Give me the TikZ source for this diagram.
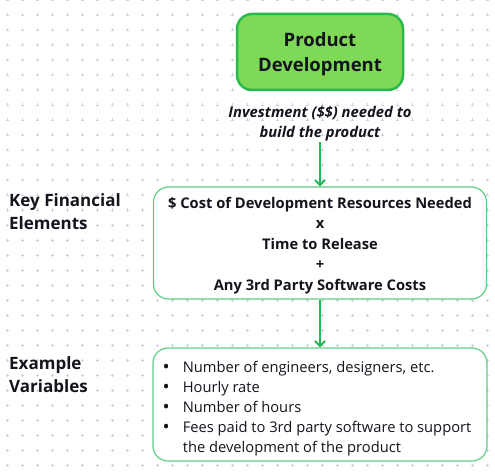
\documentclass[tikz,border=0pt]{standalone}
\usepackage{fontspec}
\setmainfont{Open Sans}
\usetikzlibrary{arrows.meta}

\definecolor{prodgreen}{RGB}{126,217,87}
\definecolor{prodedge}{RGB}{40,185,75}
\definecolor{boxedge}{RGB}{95,205,135}
\definecolor{arrowgreen}{RGB}{30,185,85}
\definecolor{gridgray}{RGB}{208,208,222}
\definecolor{ink}{RGB}{20,20,30}

% move text down inside its box without changing the box
\newcommand{\lowerby}[2]{\raisebox{-#1}[\height][\depth]{#2}}
\newcommand{\blt}{\raisebox{-1pt}{\fontsize{19}{20}\selectfont\textbullet}}

\begin{document}
\begin{tikzpicture}[x=1pt, y=-1pt,
    block/.style={draw=boxedge, line width=1.2pt, rounded corners=15pt, fill=white, align=center, text=ink, inner sep=0pt},
    edge/.style={-{Straight Barb[length=5pt,width=10pt]}, line width=2pt, draw=arrowgreen},
    sidelabel/.style={anchor=west, align=left, font=\fontsize{17}{23}\selectfont\bfseries, text=ink, inner sep=0pt},
]
\useasboundingbox (0,0) rectangle (495,473);

% dotted grid
\foreach \i in {0,...,32}
  \foreach \j in {0,...,31}
    \draw[gridgray, line width=0.6pt] (7+15*\i-1.5,15*\j) -- ++(3,0) (7+15*\i,15*\j-1.5) -- ++(0,3);

% Product
\node[block, draw=prodedge, fill=prodgreen, line width=2.5pt, minimum width=166, minimum height=76,
      font=\fontsize{18.5}{25}\selectfont\bfseries] (prod) at (320,52)
      {\lowerby{2.5pt}{\begin{tabular}{@{}c@{}}Product\\Development\end{tabular}}};

% Investment note
\node[font=\fontsize{14.8}{19.5}\selectfont\bfseries\itshape, align=center, text=ink, inner sep=1pt]
      (invest) at (320,123.5) {Investment (\$\$) needed to\\build the product};

% Key financial elements
\node[block, minimum width=333, minimum height=112, font=\fontsize{14.7}{20.5}\selectfont\bfseries]
      (fin) at (320,243) {\lowerby{2pt}{\begin{tabular}{@{}c@{}}
        \$ Cost of Development Resources Needed\\x\\Time to Release\\+\\Any 3rd Party Software Costs
      \end{tabular}}};
\node[sidelabel] (finlbl) at (9,211.5) {Key Financial\\Elements};

% Example variables
\node[block, minimum width=334, minimum height=113, font=\fontsize{14.7}{20}\selectfont\color{ink!90}]
      (vars) at (320,404.5) {\lowerby{3.5pt}{\begin{tabular}{@{}l@{\hspace{13pt}}l@{\hspace{6pt}}}
        \blt & Number of engineers, designers, etc.\\
        \blt & Hourly rate\\
        \blt & Number of hours\\
        \blt & Fees paid to 3rd party software to support\\
             & the development of the product
      \end{tabular}}};
\node[sidelabel] (varlbl) at (9,375) {Example\\Variables};

\draw[edge] (invest) -- (fin);
\draw[edge] (fin) -- (vars);

\end{tikzpicture}
\end{document}
